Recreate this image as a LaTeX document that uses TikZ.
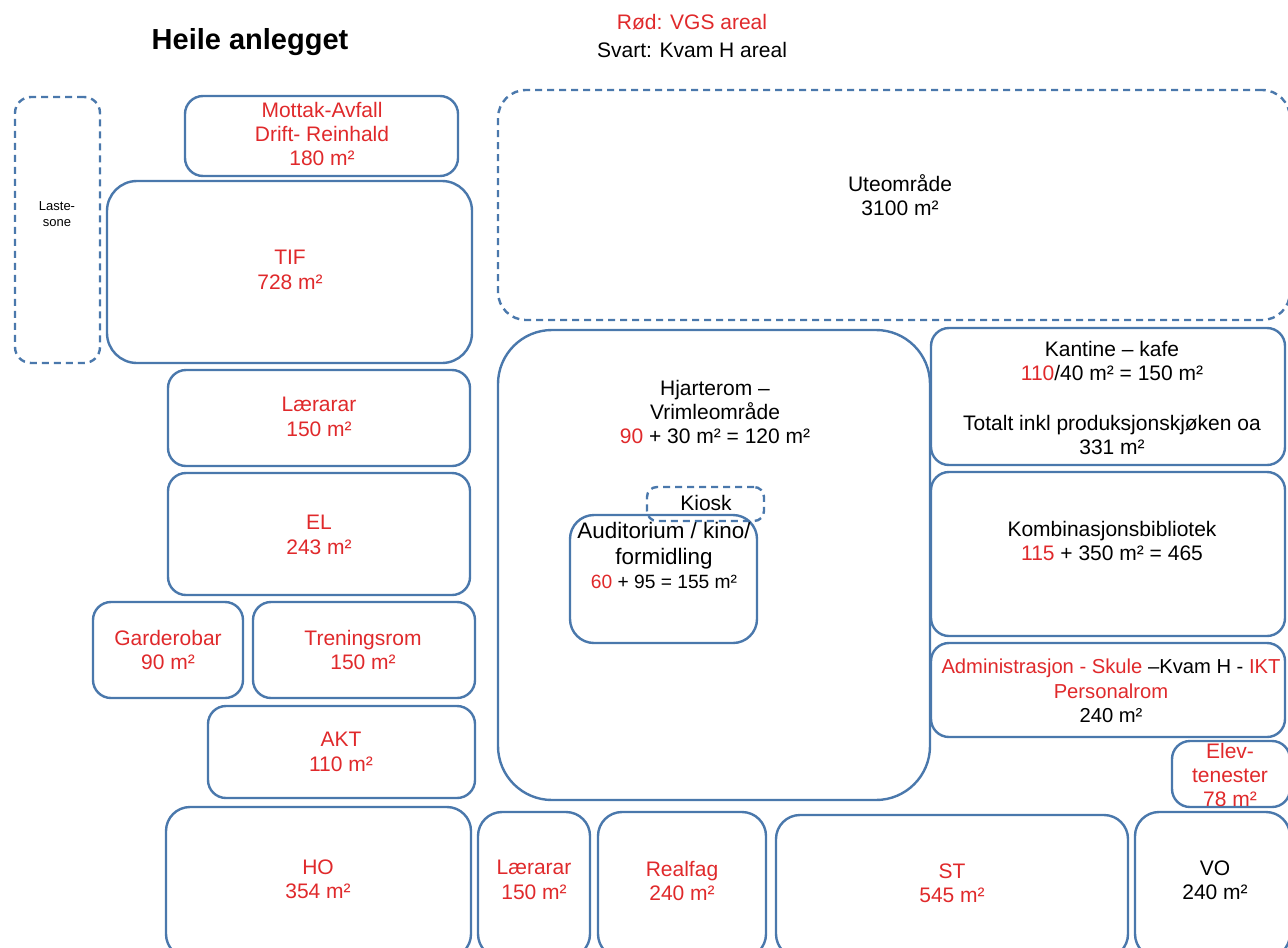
\documentclass[tikz,border=0pt]{standalone}
\usepackage{fontspec}
\setmainfont{Liberation Sans}
\usetikzlibrary{fit}
\definecolor{roomblue}{HTML}{4A78AC}
\definecolor{vgsred}{HTML}{E0292B}
\newcommand{\labfont}{\fontsize{10.5}{12.2}\selectfont}
\newcommand{\infofont}{\fontsize{10.5}{12}\selectfont}
\newcommand{\red}[1]{\textcolor{vgsred}{#1}}

\begin{document}
\begin{tikzpicture}[
  x=0.5pt, y=-0.5pt,
  room/.style={draw=roomblue, line width=1.2pt, rounded corners=9pt, inner sep=0pt},
  bigroom/.style={room, rounded corners=15pt},
  open/.style={room, dash pattern=on 3.5pt off 2.5pt},
  lbl/.style={align=center, inner sep=0pt, font=\labfont},
  vgs/.style={lbl, text=vgsred}]

\clip (0,0) rectangle (1288,947);
\fill[white] (0,0) rectangle (1288,947);

% overskrift og forklaring
\node[font=\bfseries\fontsize{14.5}{16}\selectfont] (title) at (250,42) {Heile anlegget};
\node[vgs] (legvgs) at (692,22) {Rød: VGS areal};
\node[lbl] (legkvam) at (692,50) {Svart: Kvam H areal};

% venstre side
\node[open, rounded corners=8pt, fit={(15,97) (100,363)}] (laste) {};
\node[lbl, font=\fontsize{6.5}{8}\selectfont] (lastelbl) at (57,214) {Laste-\\sone};
\node[room, fit={(185,96) (458,176)}] (mottak) {};
\node[vgs] (mottaklbl) at (322,134) {Mottak-Avfall\\Drift- Reinhald\\180 m²};
\node[bigroom, fit={(107,181) (472,363)}] (tif) {};
\node[vgs] (tiflbl) at (290,270) {TIF\\728 m²};
\node[room, fit={(168,370) (470,466)}] (laerarA) {};
\node[vgs] (laerarAlbl) at (319,417) {Lærarar\\150 m²};
\node[room, fit={(168,473) (470,595)}] (el) {};
\node[vgs] (ellbl) at (319,535) {EL\\243 m²};
\node[room, fit={(93,602) (243,698)}] (garderobe) {};
\node[vgs] (garderobelbl) at (168,650) {Garderobar\\90 m²};
\node[room, fit={(253,602) (475,698)}] (trening) {};
\node[vgs] (treninglbl) at (363,650) {Treningsrom\\150 m²};
\node[room, fit={(208,706) (475,798)}] (akt) {};
\node[vgs] (aktlbl) at (341,752) {AKT\\110 m²};
\node[room, rounded corners=12pt, fit={(166,807) (471,958)}] (ho) {};
\node[vgs] (holbl) at (318,879) {HO\\354 m²};

% ute
\node[open, rounded corners=14pt, fit={(498,90) (1290,320)}] (ute) {};
\node[lbl] (utelbl) at (900,195) {Uteområde\\3100 m²};

% midten
\node[room, rounded corners=27pt, fit={(498,330) (930,800)}] (hjarte) {};
\node[lbl] (hjartelbl) at (715,412) {Hjarterom –\\Vrimleområde\\\red{90} + 30 m² = 120 m²};
\node[room, rounded corners=12pt, fit={(570,515) (757,643)}] (audi) {};
\node[lbl, font=\fontsize{11.2}{13}\selectfont] (audilbl) at (664,546) {Auditorium / kino/\\formidling};
\node[lbl, font=\fontsize{9.6}{11}\selectfont] (audiareal) at (664,582) {\red{60} + 95 = 155 m²};
\node[open, rounded corners=5pt, fit={(647,487) (764,521)}] (kiosk) {};
\node[lbl] (kiosklbl) at (706,503) {Kiosk};

% høgre side
\node[room, fit={(931,328) (1285,465)}] (kantine) {};
\node[lbl, font=\infofont] (kantinelbl) at (1112,361) {Kantine – kafe\\\red{110}/40 m² = 150 m²};
\node[lbl, font=\infofont] (kantinetot) at (1112,435) {Totalt inkl produksjonskjøken oa\\331 m²};
\node[room, fit={(931,472) (1285,636)}] (bibliotek) {};
\node[lbl, font=\infofont] (biblbl) at (1112,541) {Kombinasjonsbibliotek\\\red{115} + 350 m² = 465};
\node[room, fit={(931,643) (1285,737)}] (admin) {};
\node[lbl, font=\fontsize{10.1}{12.2}\selectfont] (adminlbl) at (1111,691) {\red{Administrasjon - Skule} –Kvam H - \red{IKT}\\\red{Personalrom}\\240 m²};
\node[room, fit={(1172,741) (1290,807)}] (elev) {};
\node[vgs] (elevlbl) at (1230,775) {Elev-\\tenester\\78 m²};

% nedste rad
\node[room, rounded corners=12pt, fit={(478,812) (590,958)}] (laerarB) {};
\node[vgs] (laerarBlbl) at (534,880) {Lærarar\\150 m²};
\node[room, rounded corners=12pt, fit={(598,812) (766,958)}] (realfag) {};
\node[vgs] (realfaglbl) at (682,881) {Realfag\\240 m²};
\node[room, rounded corners=12pt, fit={(776,815) (1128,958)}] (st) {};
\node[vgs] (stlbl) at (952,883) {ST\\545 m²};
\node[room, rounded corners=12pt, fit={(1135,812) (1290,958)}] (vo) {};
\node[lbl] (volbl) at (1215,880) {VO\\240 m²};

\end{tikzpicture}
\end{document}
